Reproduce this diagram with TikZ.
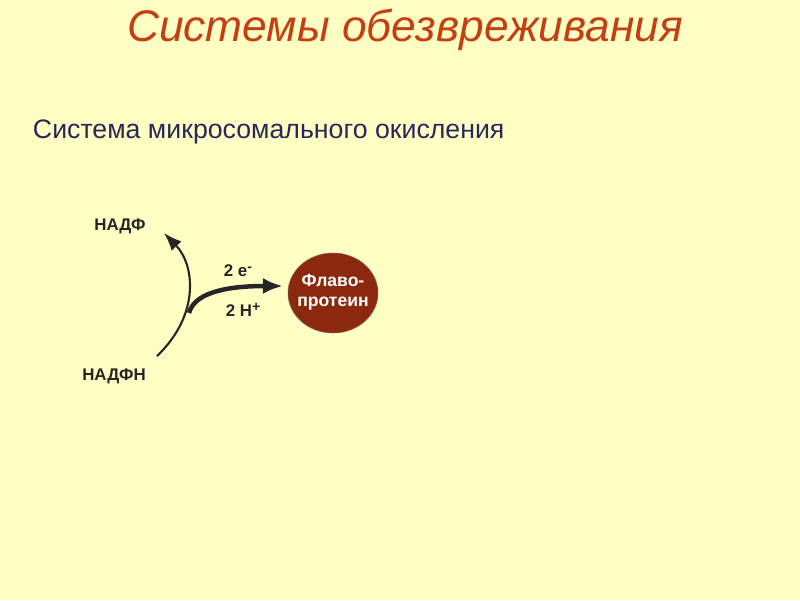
\documentclass[tikz,border=0pt]{standalone}
\usepackage{fontspec}
\setmainfont{Liberation Sans}
\usetikzlibrary{arrows.meta,positioning}
\definecolor{slidebg}{RGB}{255,255,196}
\definecolor{titlered}{RGB}{196,64,20}
\definecolor{subnavy}{RGB}{40,40,92}
\definecolor{flavo}{RGB}{140,40,14}
\newcommand{\chargesup}[1]{\raisebox{0.55ex}{\fontsize{10}{12}\selectfont #1}}
\tikzset{
    title/.style={
        font=\fontsize{31.5}{36}\selectfont\itshape,
        text=titlered
    },
    subtitle/.style={
        font=\fontsize{19}{23}\selectfont,
        text=subnavy
    },
    chem/.style={
        font=\fontsize{12}{14}\selectfont\bfseries,
        text=black!85
    },
    enzyme/.style={
        draw=gray!70!flavo,
        fill=flavo,
        text=white,
        align=center,
        inner sep=0pt,
        font=\fontsize{12.5}{14.5}\selectfont\bfseries
    },
    arrow/.style={
        -{Latex[length=4.5mm,width=3.4mm]},
        line width=1.5pt,
        black!85
    },
    thickarrow/.style={
        -{Latex[length=5mm,width=4mm]},
        line width=3.2pt,
        black!85
    }
}

\begin{document}
\begin{tikzpicture}[x=0.025cm,y=-0.025cm]

\fill[slidebg] (0,0) rectangle (800,600);
\useasboundingbox (0,0) rectangle (800,600);

\node[title] (head) at (405,30) {Системы обезвреживания};
\node[subtitle, anchor=west] (sub) at (28,132) {Система микросомального окисления};

\node[chem] (nadp) at (120,226) {НАДФ};
\node[chem] (nadph) at (114,376) {НАДФН};
\draw[enzyme] (333,293) ellipse [x radius=45, y radius=40];
\node[enzyme, draw=none, fill=none] (flavo) at (333,292) {Флаво-\\протеин};

\coordinate (arcstart) at (157,356);
\coordinate (arcend) at (164,233);
\coordinate (branch) at (189,313);
\coordinate (flavoin) at (283,286);

% NADPH -> NADP
\draw[arrow] (arcstart) .. controls (200,315) and (195,265) .. (arcend);
% electrons to flavoprotein
\draw[thickarrow] (branch) .. controls (195,290) and (235,286) .. (flavoin);

\node[chem] (elec) at (238,271) {2 e\chargesup{-}};
\node[chem] (prot) at (243,310) {2 H\chargesup{+}};

\end{tikzpicture}
\end{document}
